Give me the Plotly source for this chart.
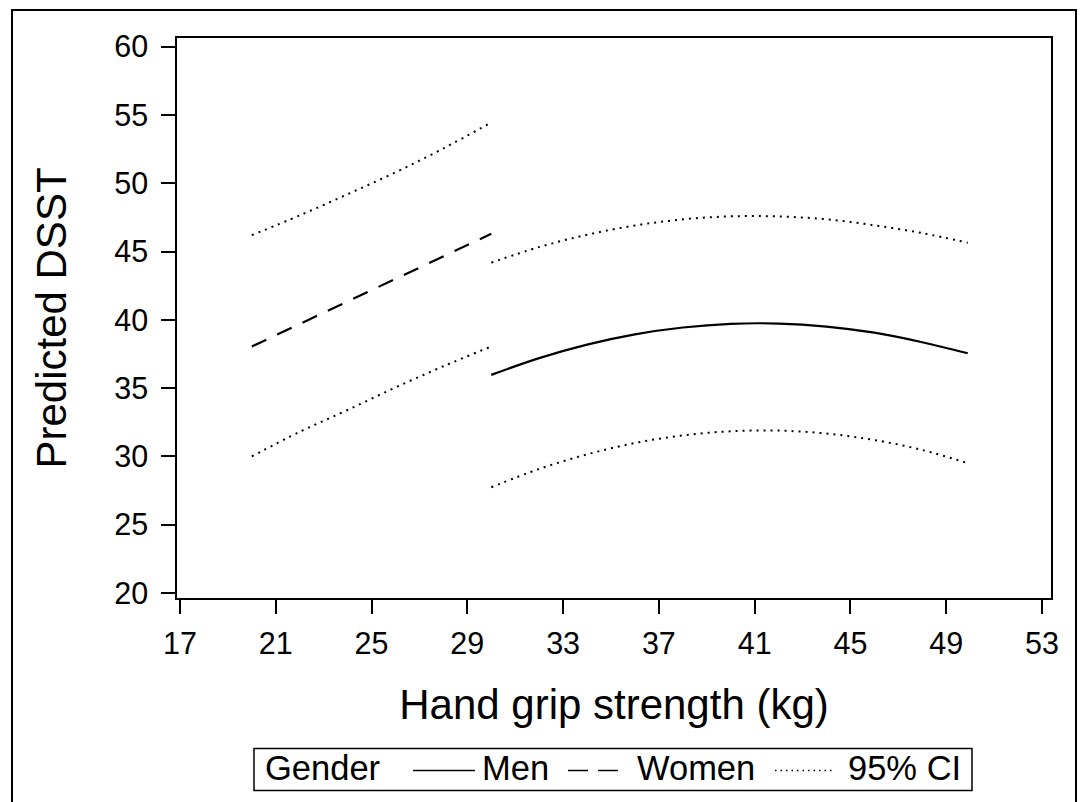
import plotly.graph_objects as go

# ---- data ----
women_x = [20, 22, 24, 26, 28, 30]
women_pred = [38.05, 39.70, 41.35, 43.00, 44.65, 46.30]
women_upper = [46.20, 47.65, 49.20, 50.80, 52.55, 54.46]
women_lower = [30.00, 31.80, 33.40, 35.05, 36.60, 38.05]

men_x = [30, 32, 34, 36, 38, 40, 42, 44, 46, 48, 49.9]
men_pred = [35.97, 37.20, 38.19, 38.94, 39.44, 39.71, 39.73, 39.51, 39.06, 38.36, 37.55]
men_upper = [44.19, 45.33, 46.23, 46.91, 47.36, 47.58, 47.57, 47.36, 46.92, 46.35, 45.65]
men_lower = [27.74, 29.08, 30.15, 30.98, 31.54, 31.84, 31.89, 31.67, 31.20, 30.47, 29.50]

x_ticks = [17, 21, 25, 29, 33, 37, 41, 45, 49, 53]
y_ticks = [20, 25, 30, 35, 40, 45, 50, 55, 60]

legend_title = "Gender"
legend_labels = ["Men", "Women", "95% CI"]

FONT = "Liberation Sans, Arial, sans-serif"
DOT = "2px,5px"
DASH = "16px,12px"

W, H = 1081, 802
ML, MR, MT, MB = 177, 30, 38, 204
PW, PH = W - ML - MR, H - MT - MB


def px(x):
    return (x - ML) / PW


def py(y):
    return (H - MB - y) / PH


fig = go.Figure()

for xs, ys in [(women_x, women_upper), (women_x, women_lower),
               (men_x, men_upper), (men_x, men_lower)]:
    fig.add_trace(go.Scatter(x=xs, y=ys, mode="lines", line_shape="spline",
                             line=dict(color="black", width=2, dash=DOT),
                             name="95% CI", showlegend=False))

fig.add_trace(go.Scatter(x=men_x, y=men_pred, mode="lines", line_shape="spline",
                         line=dict(color="black", width=2.2), name="Men", showlegend=False))
fig.add_trace(go.Scatter(x=women_x, y=women_pred, mode="lines",
                         line=dict(color="black", width=2.2, dash=DASH), name="Women",
                         showlegend=False))

axis_common = dict(showline=True, linecolor="black", linewidth=1.5, mirror=True,
                   ticks="outside", ticklen=14, tickwidth=1.5, tickcolor="black",
                   showgrid=False, zeroline=False,
                   tickfont=dict(family=FONT, size=30.5, color="black"))

fig.update_xaxes(range=[16.875, 53.376], tickvals=x_ticks, ticklabelstandoff=4,
                 title=dict(text="Hand grip strength (kg)", standoff=30,
                            font=dict(family=FONT, size=42, color="black")),
                 **axis_common)
fig.update_yaxes(range=[19.63, 60.64], tickvals=y_ticks, ticklabelstandoff=7,
                 title=dict(text="Predicted DSST", standoff=35,
                            font=dict(family=FONT, size=42, color="black")),
                 **axis_common)

# ---- manual legend (decoration) ----
LY = 770.5
shapes = [
    dict(type="rect", xref="paper", yref="paper",
         x0=px(12), x1=px(1076), y0=py(10), y1=py(830),
         line=dict(color="black", width=2)),
    dict(type="rect", xref="paper", yref="paper",
         x0=px(254), x1=px(972), y0=py(748.5), y1=py(790.5),
         line=dict(color="black", width=1.5), fillcolor="white", layer="above"),
    dict(type="line", xref="paper", yref="paper", x0=px(413), x1=px(475),
         y0=py(LY), y1=py(LY), line=dict(color="black", width=1.5)),
    dict(type="line", xref="paper", yref="paper", x0=px(568), x1=px(618),
         y0=py(LY), y1=py(LY), line=dict(color="black", width=1.5, dash="20px,10px")),
    dict(type="line", xref="paper", yref="paper", x0=px(775), x1=px(834),
         y0=py(LY), y1=py(LY), line=dict(color="black", width=1.5, dash="1.5px,4px")),
]
annotations = []
for text, x0 in [(legend_title, 263), (legend_labels[0], 480),
                 (legend_labels[1], 635), (legend_labels[2], 846)]:
    annotations.append(dict(text=text, xref="paper", yref="paper", x=px(x0), y=py(768),
                            xanchor="left", yanchor="middle", showarrow=False,
                            font=dict(family=FONT, size=34.5, color="black")))

fig.update_layout(
    width=W, height=H,
    margin=dict(l=ML, r=MR, t=MT, b=MB, autoexpand=False),
    plot_bgcolor="white", paper_bgcolor="white",
    font=dict(family=FONT, color="black"),
    showlegend=False,
    shapes=shapes, annotations=annotations,
)

fig.write_html("out.html", config={"displayModeBar": False},
               post_script="document.body.style.margin='0';")
